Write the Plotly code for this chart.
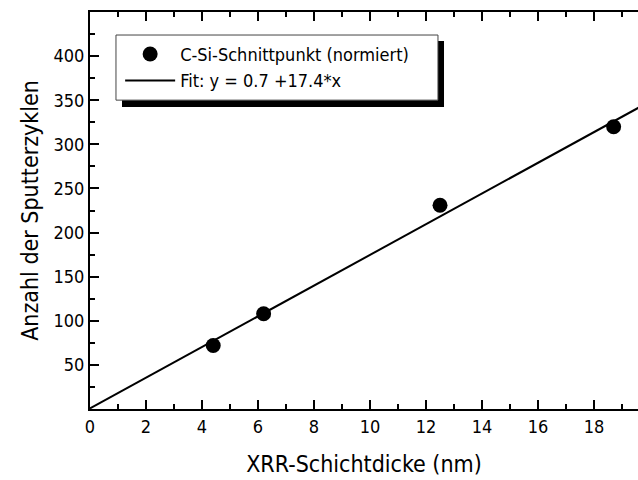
import plotly.graph_objects as go

# data
thickness_nm = [4.4, 6.2, 12.5, 18.7]
cycles = [72, 108, 231, 320]
fit_x = [0.0, 19.6]
fit_y = [0.7, 341.7]

x_tickvals = [0, 2, 4, 6, 8, 10, 12, 14, 16, 18]
y_tickvals = [50, 100, 150, 200, 250, 300, 350, 400]

FONT = "Liberation Sans Narrow, DejaVu Sans Condensed, Roboto Condensed, Arial Narrow, sans-serif"

fig = go.Figure()
fig.add_trace(go.Scatter(
    x=thickness_nm, y=cycles, mode="markers",
    name="C-Si-Schnittpunkt (normiert)",
    marker=dict(color="black", size=15, symbol="circle"),
))
fig.add_trace(go.Scatter(
    x=fit_x, y=fit_y, mode="lines",
    name="Fit: y = 0.7 +17.4*x",
    line=dict(color="black", width=2),
))

# legend box with drop shadow
fig.add_shape(type="rect", xref="paper", yref="paper",
              x0=0.0584, x1=0.646, y0=0.761, y1=0.927,
              fillcolor="black", line=dict(width=0), layer="above")
fig.add_shape(type="rect", xref="paper", yref="paper",
              x0=0.0474, x1=0.635, y0=0.778, y1=0.942,
              fillcolor="white", line=dict(color="#444", width=1), layer="above")

fig.update_layout(
    width=638, height=480,
    margin=dict(l=90, r=0, t=12, b=71),
    paper_bgcolor="white", plot_bgcolor="white",
    font=dict(family=FONT, color="black", size=18),
    showlegend=True,
    legend=dict(x=0.055, y=0.94, xanchor="left", yanchor="top",
                bgcolor="rgba(0,0,0,0)", borderwidth=0,
                font=dict(family=FONT, size=18, color="black"),
                itemwidth=50, tracegroupgap=0),
    xaxis=dict(range=[0, 19.57], showgrid=False, zeroline=False,
               showline=True, linecolor="black", linewidth=2,
               mirror="ticks", ticks="inside", ticklen=9, tickwidth=1.5,
               tickcolor="black", tickvals=x_tickvals,
               minor=dict(dtick=1, tick0=0, ticks="inside", ticklen=5,
                          tickwidth=1.5, tickcolor="black", showgrid=False),
               tickfont=dict(size=18),
               title=dict(text="XRR-Schichtdicke (nm)", font=dict(size=23), standoff=20)),
    yaxis=dict(range=[0, 450], showgrid=False, zeroline=False,
               showline=True, linecolor="black", linewidth=2,
               mirror=False, ticks="inside", ticklen=9, tickwidth=1.5,
               tickcolor="black", tickvals=y_tickvals,
               minor=dict(dtick=25, tick0=0, ticks="inside", ticklen=5,
                          tickwidth=1.5, tickcolor="black", showgrid=False),
               tickfont=dict(size=18),
               title=dict(text="Anzahl der Sputterzyklen", font=dict(size=23), standoff=8)),
)

fig.write_html("out.html")
